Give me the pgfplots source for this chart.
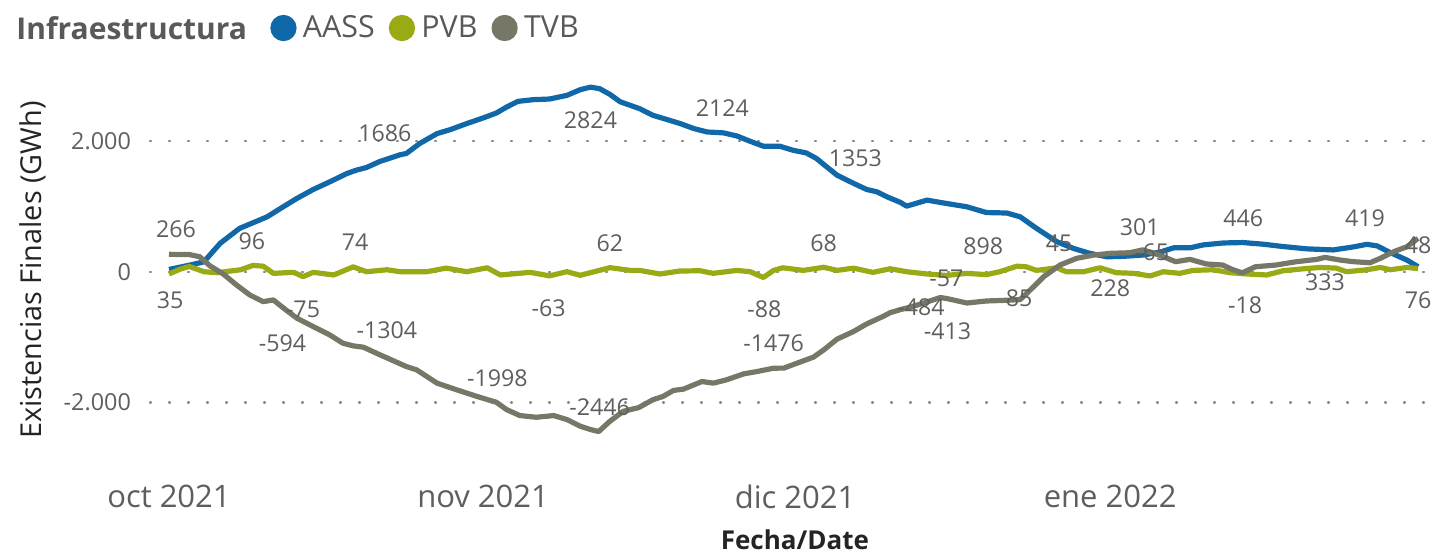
\documentclass[border=0pt]{standalone}
\usepackage{fontspec}
\setmainfont{Open Sans}
\usepackage{pgfplots}
\pgfplotsset{compat=1.18}
\definecolor{aass}{RGB}{17,104,168}
\definecolor{pvb}{RGB}{154,170,20}
\definecolor{tvb}{RGB}{118,119,102}
\definecolor{lbl}{RGB}{96,94,92}
\definecolor{ttl}{RGB}{89,89,89}
\definecolor{dark}{RGB}{37,36,35}
\begin{document}
\begin{tikzpicture}
\useasboundingbox (0pt,0pt) rectangle (726pt,277pt);
\begin{axis}[
  at={(75pt,52pt)}, anchor=south west,
  scale only axis, width=641pt, height=185pt,
  xmin=-1.857, xmax=123.46, ymin=-2728, ymax=2933,
  axis line style={draw=none},
  clip=false,
  xtick={0,30.7,61.2,92}, xticklabels={oct 2021,nov 2021,dic 2021,ene 2022},
  ytick={-2000,0,2000}, yticklabels={-2.000,0,2.000},
  major tick length=0pt,
  xticklabel style={font=\fontsize{15.5}{18}\selectfont, text=lbl, yshift=-14pt},
  yticklabel style={font=\fontsize{11.7}{14}\selectfont, text=lbl, xshift=-6pt},
  ymajorgrids,
  grid style={lbl!75, line width=1.1pt, dash pattern=on 0.5pt off 9pt, line cap=round},
  ylabel={Existencias Finales (GWh)},
  ylabel style={at={(axis description cs:-0.0913,0.4865)}, anchor=center, font=\fontsize{14.4}{17}\selectfont, text=dark},
  xlabel={\textbf{Fecha/Date}},
  xlabel style={at={(axis description cs:0.503,-0.243)}, anchor=center, font=\fontsize{13}{16}\selectfont, text=dark},
  legend image code/.code={\fill (0pt,0pt) circle (5.25pt);},
  legend style={at={(axis description cs:0.0936,1.1405)}, anchor=west, draw=none, fill=none,
    legend columns=-1, font=\fontsize{15.2}{18}\selectfont, text=ttl, inner sep=0pt,
    nodes={inner sep=0pt},
    /tikz/every odd column/.append style={column sep=3.2pt},
    /tikz/every even column/.append style={column sep=7pt}},
  every axis plot/.append style={line width=2.6pt, line join=round, no markers},
]
\addplot[aass] table {
0.0 35
2.0 100
3.4 150
5.0 434
6.9 663
8.2 748
9.6 840
10.9 968
12.5 1121
14.1 1258
15.7 1374
17.4 1503
18.3 1553
19.3 1594
20.6 1686
22.6 1790
23.2 1808
24.5 1961
26.2 2113
27.5 2174
29.1 2266
30.7 2352
32.0 2428
33.0 2519
34.1 2606
35.6 2632
37.2 2642
38.9 2698
40.2 2785
41.2 2824
42.1 2800
43.1 2713
44.1 2600
46.0 2495
47.3 2393
48.7 2327
50.0 2265
51.3 2190
52.6 2138
54.2 2124
55.5 2077
56.8 1996
58.1 1920
59.7 1920
61.0 1858
62.3 1817
63.3 1731
64.3 1603
65.3 1477
66.9 1353
68.2 1258
69.2 1222
70.2 1145
71.5 1060
72.1 1003
74.1 1095
76.0 1044
78.0 993
79.9 905
81.9 898
83.2 840
84.8 663
86.8 458
88.4 357
90.0 281
91.7 228
93.3 235
95.2 255
96.9 301
98.2 365
99.8 365
101.1 410
103.1 440
105.0 446
107.0 420
108.9 385
111.2 350
113.8 333
115.8 380
117.1 419
118.1 395
119.4 290
121.0 179
122.1 76
};
\addplot[pvb] table {
0.0 -35
1.1 40
2.0 80
3.4 0
4.7 -15
7.0 30
8.2 96
9.2 85
10.2 -25
12.2 -10
13.1 -75
14.1 -10
16.1 -50
18.0 74
19.3 0
21.3 30
22.6 0
25.2 0
27.1 55
29.1 0
31.1 60
32.4 -50
35.3 -10
37.2 -63
38.9 0
40.2 -55
43.1 62
45.1 20
46.0 20
48.0 -35
49.9 10
51.9 15
53.2 -25
55.5 20
56.8 0
58.1 -88
59.1 20
60.0 60
62.0 20
64.0 68
65.3 20
66.9 55
68.8 -10
70.5 45
72.1 0
74.1 -35
76.0 -57
78.0 -25
79.9 -45
81.2 0
82.9 85
83.8 75
84.8 20
86.8 60
87.7 0
89.4 0
91.0 60
92.6 -15
94.3 -25
95.9 -65
97.2 0
98.8 -25
100.1 20
102.1 30
103.7 -15
105.4 -35
107.3 -50
108.9 15
110.9 45
112.5 65
114.1 55
115.1 0
117.1 30
118.4 65
119.4 30
121.0 65
122.1 48
};
\addplot[tvb] table {
0.0 266
2.0 262
3.0 229
4.0 90
5.3 -35
6.6 -203
7.9 -356
9.2 -458
10.2 -432
11.5 -594
12.5 -711
14.1 -840
15.7 -966
17.0 -1094
18.0 -1135
19.0 -1155
20.6 -1270
21.9 -1360
23.2 -1451
24.2 -1501
26.2 -1705
28.1 -1806
30.1 -1908
32.0 -1998
33.0 -2110
34.3 -2201
35.9 -2227
37.6 -2201
38.9 -2262
40.2 -2364
41.2 -2415
42.0 -2446
43.1 -2288
44.4 -2136
45.9 -2080
47.3 -1959
48.3 -1908
49.3 -1817
50.3 -1796
52.1 -1680
53.2 -1705
54.5 -1654
56.2 -1562
57.5 -1527
59.1 -1476
60.1 -1475
61.4 -1399
63.0 -1307
64.0 -1196
65.3 -1032
66.9 -916
68.2 -799
69.9 -677
70.5 -626
71.5 -580
72.5 -540
73.7 -484
75.4 -395
76.1 -413
78.0 -479
79.9 -448
81.9 -437
83.2 -427
84.2 -279
85.5 -76
87.1 102
88.7 204
90.4 255
92.0 281
93.9 290
95.2 335
96.8 255
98.4 153
99.8 189
101.4 118
103.0 102
103.9 37
104.9 -18
106.2 76
108.2 102
110.2 153
112.2 189
113.0 219
114.5 178
115.8 153
117.4 137
118.4 204
119.7 305
121.0 382
122.1 509
};
\legend{AASS,PVB,TVB}
\node[anchor=west, inner sep=0pt, font=\fontsize{15}{18}\selectfont\bfseries, text=ttl] at (axis description cs:-0.1045,1.139) {Infraestructura};
\begin{scope}[every node/.style={font=\fontsize{11.6}{14}\selectfont, text=lbl, inner sep=0pt}]
\node at (axis cs:0.68,653) {266};
\node at (axis cs:0.1,-438) {35};
\node at (axis cs:8.1,470) {96};
\node at (axis cs:18.2,454) {74};
\node at (axis cs:13.1,-571) {-75};
\node at (axis cs:11.1,-1091) {-594};
\node at (axis cs:21.1,2122) {1686};
\node at (axis cs:21.3,-892) {-1304};
\node at (axis cs:32.1,-1626) {-1998};
\node at (axis cs:41.2,2323) {2824};
\node at (axis cs:43.1,439) {62};
\node at (axis cs:37.1,-555) {-63};
\node at (axis cs:42.1,-2070) {-2446};
\node at (axis cs:54.1,2505) {2124};
\node at (axis cs:67.1,1740) {1353};
\node at (axis cs:64.0,439) {68};
\node at (axis cs:58.2,-571) {-88};
\node at (axis cs:59.1,-1091) {-1476};
\node at (axis cs:79.6,393) {898};
\node at (axis cs:76.0,-96) {-57};
\node at (axis cs:73.5,-540) {-484};
\node at (axis cs:76.1,-907) {-413};
\node at (axis cs:83.1,-402) {85};
\node at (axis cs:87.0,439) {45};
\node at (axis cs:94.9,684) {301};
\node at (axis cs:96.1,301) {-65};
\node at (axis cs:92.0,-249) {228};
\node at (axis cs:105.0,822) {446};
\node at (axis cs:105.2,-509) {-18};
\node at (axis cs:116.9,822) {419};
\node at (axis cs:113.0,-157) {333};
\node at (axis cs:122.1,409) {48};
\node at (axis cs:122.1,-432) {76};
\end{scope}
\end{axis}
\end{tikzpicture}
\end{document}
